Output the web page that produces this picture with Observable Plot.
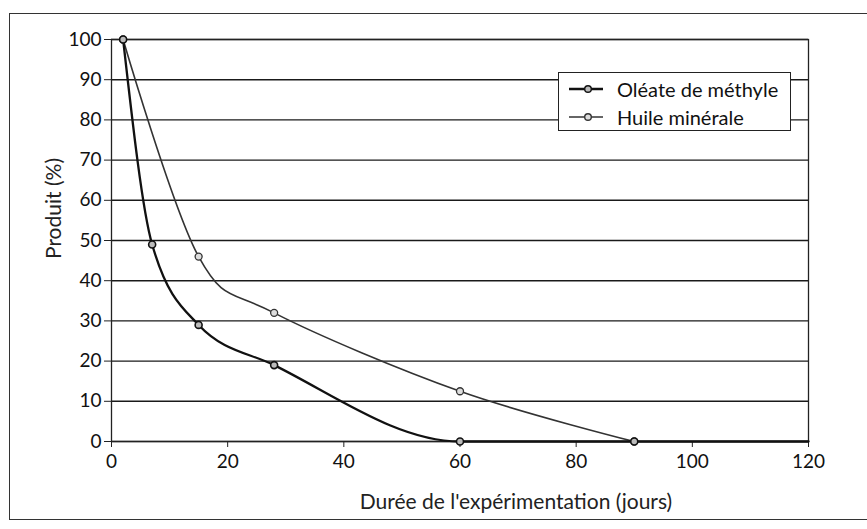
<!DOCTYPE html>
<html>
<head>
<meta charset="utf-8">
<script src="https://cdn.jsdelivr.net/npm/d3@7"></script>
<script src="https://cdn.jsdelivr.net/npm/@observablehq/plot@0.6"></script>
<style>
  html, body { margin: 0; padding: 0; background: #fff; }
  #wrap { position: relative; width: 867px; height: 529px; overflow: hidden; font-family: Lato, "Open Sans", sans-serif; }
  #border { position: absolute; left: 9px; top: 13px; width: 880px; height: 507px; border: 1.5px solid #333; box-sizing: border-box; }
  #legend { position: absolute; left: 558px; top: 72px; width: 233px; height: 59px; background: #fff; border: 1.3px solid #222; box-sizing: border-box; font-size: 20px; color: #111; }
  .row { position: absolute; left: 10px; display: flex; align-items: center; height: 26px; }
  .row svg { margin-right: 14px; }
</style>
</head>
<body>
<div id="wrap">
  <div id="border"></div>
  <div id="chart"></div>
  <div id="legend"></div>
</div>
<script>
const seriesNames = ["Oléate de méthyle", "Huile minérale"];
const oleateDays = [2, 7, 15, 28, 60, 90, 120];
const oleateValues = [100, 49, 29, 19, 0, 0, 0];
const huileDays = [2, 15, 28, 60, 90];
const huileValues = [100, 46, 32, 12.5, 0];
const xTicks = [0, 20, 40, 60, 80, 100, 120];
const yTicks = [0, 10, 20, 30, 40, 50, 60, 70, 80, 90, 100];
const xLabel = "Durée de l'expérimentation (jours)";
const yLabel = "Produit (%)";

const oleate = oleateDays.map((d, i) => ({x: d, y: oleateValues[i], s: seriesNames[0]}));
const huile = huileDays.map((d, i) => ({x: d, y: huileValues[i], s: seriesNames[1]}));
const shown = d => d.x < 120;

const chart = Plot.plot({
  width: 867, height: 529,
  marginLeft: 111, marginRight: 59, marginTop: 39, marginBottom: 88,
  style: {fontFamily: "Lato, 'Open Sans', sans-serif", fontSize: "19px", color: "#111", background: "transparent"},
  x: {domain: [0, 120]},
  y: {domain: [0, 100]},
  marks: [
    Plot.gridY(yTicks, {stroke: "#1a1a1a", strokeOpacity: 1, strokeWidth: 1.4}),
    Plot.frame({stroke: "#222", strokeWidth: 1.3}),
    Plot.axisY(yTicks, {tickSize: 7, tickPadding: 3, label: null, stroke: "#222"}),
    Plot.axisX(xTicks, {tickSize: 6, tickPadding: 7, label: null, stroke: "#222"}),
    Plot.text([yLabel], {frameAnchor: "left", textAnchor: "middle", rotate: -90, dx: -57, dy: -32, fontSize: 21, fill: "#222"}),
    Plot.text([xLabel], {frameAnchor: "bottom", dy: 67, dx: 56, fontSize: 21, fill: "#222"}),
    Plot.line(huile, {x: "x", y: "y", curve: "cardinal", stroke: "#333", strokeWidth: 1.6}),
    Plot.line(oleate, {x: "x", y: "y", curve: "monotone-x", stroke: "#111", strokeWidth: 2.3}),
    Plot.dot(huile, {x: "x", y: "y", filter: shown, r: 3.5, stroke: "#333", fill: "#ddd", strokeWidth: 1.3}),
    Plot.dot(oleate, {x: "x", y: "y", filter: shown, r: 3.5, stroke: "#111", fill: "#bbb", strokeWidth: 1.6})
  ]
});
document.getElementById("chart").appendChild(chart);

const legend = document.getElementById("legend");
const styles = [{stroke: "#111", w: 2.3, fill: "#bbb"}, {stroke: "#333", w: 1.6, fill: "#ddd"}];
seriesNames.forEach((name, i) => {
  const row = document.createElement("div");
  row.className = "row";
  row.style.top = (3 + i * 28) + "px";
  const st = styles[i];
  row.innerHTML = `<svg width="34" height="10"><line x1="0" x2="34" y1="5" y2="5" stroke="${st.stroke}" stroke-width="${st.w}"/><circle cx="19" cy="5" r="3.3" stroke="${st.stroke}" fill="${st.fill}" stroke-width="1.4"/></svg><span>${name}</span>`;
  legend.appendChild(row);
});
</script>
</body>
</html>
